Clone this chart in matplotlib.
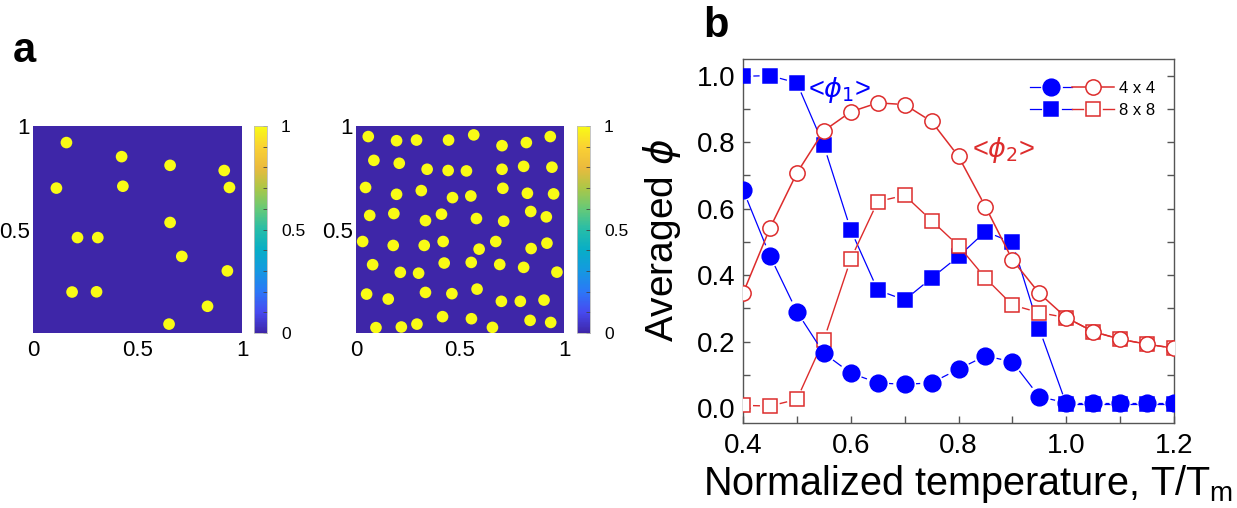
import numpy as np
import matplotlib
matplotlib.use("Agg")
import matplotlib.pyplot as plt
from matplotlib.colors import LinearSegmentedColormap, Normalize
from matplotlib.cm import ScalarMappable
from matplotlib.patches import Circle
from matplotlib.lines import Line2D
from matplotlib.collections import LineCollection
from matplotlib.legend_handler import HandlerTuple, HandlerLine2D
from matplotlib.ticker import MultipleLocator

plt.rcParams['font.family'] = ['Liberation Sans', 'DejaVu Sans']
plt.rcParams['mathtext.fontset'] = 'dejavusans'

# ---------------- data: panel a (particle centres) ----------------
x_4x4 = [0.16, 0.424, 0.656, 0.915, 0.112, 0.43, 0.94, 0.656,
         0.213, 0.31, 0.712, 0.93, 0.187, 0.304, 0.835, 0.651]
y_4x4 = [0.92, 0.852, 0.81, 0.785, 0.70, 0.709, 0.703, 0.534,
         0.461, 0.461, 0.37, 0.30, 0.198, 0.199, 0.129, 0.043]

x_8x8 = [0.059, 0.195, 0.291, 0.445, 0.566, 0.702, 0.819, 0.934,
         0.086, 0.208, 0.342, 0.443, 0.531, 0.702, 0.806, 0.942,
         0.046, 0.195, 0.314, 0.464, 0.552, 0.706, 0.824, 0.950,
         0.066, 0.182, 0.334, 0.411, 0.579, 0.710, 0.840, 0.915,
         0.032, 0.179, 0.328, 0.419, 0.592, 0.672, 0.842, 0.918,
         0.080, 0.213, 0.301, 0.424, 0.554, 0.691, 0.806, 0.966,
         0.051, 0.155, 0.334, 0.461, 0.582, 0.699, 0.790, 0.904,
         0.096, 0.218, 0.293, 0.416, 0.555, 0.656, 0.837, 0.936]
y_8x8 = [0.949, 0.929, 0.932, 0.932, 0.957, 0.905, 0.920, 0.949,
         0.834, 0.820, 0.791, 0.785, 0.783, 0.791, 0.805, 0.801,
         0.703, 0.670, 0.688, 0.654, 0.662, 0.699, 0.675, 0.672,
         0.568, 0.577, 0.543, 0.574, 0.553, 0.540, 0.587, 0.561,
         0.442, 0.423, 0.423, 0.442, 0.405, 0.442, 0.408, 0.434,
         0.330, 0.293, 0.289, 0.338, 0.341, 0.331, 0.317, 0.294,
         0.188, 0.164, 0.196, 0.190, 0.212, 0.153, 0.153, 0.159,
         0.026, 0.029, 0.043, 0.079, 0.069, 0.027, 0.061, 0.051]
particle_radius = 0.028

img_ticks = [0, 0.5, 1]
img_ticklabels = ['0', '0.5', '1']
img_yticks = [0.5, 1]
img_yticklabels = ['0.5', '1']

# ---------------- data: panel b ----------------
temp = [0.40, 0.45, 0.50, 0.55, 0.60, 0.65, 0.70, 0.75, 0.80,
        0.85, 0.90, 0.95, 1.00, 1.05, 1.10, 1.15, 1.20]
phi1_4x4 = [0.657, 0.458, 0.290, 0.165, 0.105, 0.076, 0.071, 0.076, 0.117,
            0.157, 0.139, 0.034, 0.016, 0.016, 0.016, 0.016, 0.016]
phi2_4x4 = [0.345, 0.541, 0.707, 0.834, 0.891, 0.918, 0.913, 0.862, 0.757,
            0.606, 0.446, 0.345, 0.272, 0.230, 0.207, 0.192, 0.180]
phi1_8x8 = [0.998, 1.000, 0.978, 0.790, 0.536, 0.355, 0.325, 0.391, 0.456,
            0.531, 0.498, 0.238, 0.012, 0.012, 0.012, 0.012, 0.012]
phi2_8x8 = [0.008, 0.006, 0.026, 0.205, 0.448, 0.621, 0.640, 0.564, 0.488,
            0.391, 0.310, 0.287, 0.272, 0.230, 0.207, 0.192, 0.180]
legend_labels = ['4 x 4', '8 x 8']

# ---------------- style ----------------
BLUE = '#0000FF'
RED = '#DD2C2C'
SPINE = '#555555'

parula = LinearSegmentedColormap.from_list('parula_like', [
    (0.00, (0.2422, 0.1504, 0.6603)),
    (0.10, (0.2780, 0.2900, 0.9400)),
    (0.20, (0.1700, 0.4700, 0.9700)),
    (0.30, (0.0800, 0.6000, 0.8800)),
    (0.40, (0.0300, 0.6800, 0.7800)),
    (0.50, (0.1500, 0.7400, 0.6600)),
    (0.60, (0.4000, 0.7900, 0.4700)),
    (0.70, (0.6700, 0.7800, 0.2800)),
    (0.80, (0.9200, 0.7300, 0.2400)),
    (0.90, (0.9800, 0.8200, 0.2000)),
    (1.00, (0.9769, 0.9839, 0.0805)),
])

W, H = 1237, 508
fig = plt.figure(figsize=(W / 100, H / 100), dpi=100)


def px_axes(x0, y0, x1, y1):
    return fig.add_axes([x0 / W, 1 - y1 / H, (x1 - x0) / W, (y1 - y0) / H])


def draw_field(ax, xs, ys):
    ax.set_facecolor(parula(0.0))
    for cx, cy in zip(xs, ys):
        ax.add_patch(Circle((cx, cy), particle_radius, facecolor=parula(1.0),
                            edgecolor='none'))
    ax.set_xlim(0, 1)
    ax.set_ylim(0, 1)
    for s in ax.spines.values():
        s.set_visible(False)
    ax.set_xticks(img_ticks)
    ax.set_xticklabels(img_ticklabels)
    ax.set_yticks(img_yticks)
    ax.set_yticklabels(img_yticklabels)
    ax.tick_params(length=0, labelsize=16, colors='black')
    ax.tick_params(axis='x', pad=5)
    ax.tick_params(axis='y', pad=2)


def draw_cbar(cax):
    cb = fig.colorbar(ScalarMappable(norm=Normalize(0, 1), cmap=parula), cax=cax)
    cb.set_ticks([0, 0.5, 1])
    cb.ax.set_yticklabels(['0', '0.5', '1'])
    cb.ax.yaxis.set_minor_locator(MultipleLocator(0.1))
    cb.ax.tick_params(which='both', direction='in', length=3, width=0.6,
                      color='#444444', labelsize=12.5, pad=10)
    cb.outline.set_edgecolor('#bbbbbb')
    cb.outline.set_linewidth(0.6)


ax1 = px_axes(33, 126, 242, 333)
draw_field(ax1, x_4x4, y_4x4)
draw_cbar(px_axes(254, 126, 267, 333))

ax2 = px_axes(356, 126, 564, 333)
draw_field(ax2, x_8x8, y_8x8)
draw_cbar(px_axes(577, 126, 590, 333))

# ---------------- panel b ----------------
ax = px_axes(743, 59, 1174, 423)
ax.set_xlim(0.4, 1.2)
ax.set_ylim(-0.045, 1.05)


def gapped(ax, x, y, r_px):
    P = ax.transData.transform(np.column_stack([x, y]))
    inv = ax.transData.inverted()
    segs = []
    for p0, p1 in zip(P[:-1], P[1:]):
        d = p1 - p0
        L = np.hypot(*d)
        if L <= 2 * r_px:
            continue
        u = d / L
        segs.append(inv.transform(np.array([p0 + u * r_px, p1 - u * r_px])))
    return segs


PT = 100 / 72.0
series = [
    # y, color, marker, ms, mfc, gap(pt), lw, zorder
    (phi1_8x8, BLUE, 's', 10.5, BLUE, 2.2, 0.9, 3),
    (phi2_8x8, RED, 's', 10.0, 'white', 2.2, 1.0, 4),
    (phi1_4x4, BLUE, 'o', 12.0, BLUE, 2.2, 0.9, 5),
    (phi2_4x4, RED, 'o', 11.0, 'white', 0.0, 1.1, 6),
]
handles = []
for yv, col, mk, ms, mfc, gap, lw, z in series:
    r_px = (ms / 2 + gap) * PT
    segs = gapped(ax, temp, yv, r_px)
    ax.add_collection(LineCollection(segs, colors=col, linewidths=lw, zorder=z),
                      autolim=False)
    ax.plot(temp, yv, ls='none', marker=mk, ms=ms, mfc=mfc, mec=col,
            mew=1.1, zorder=z + 0.5)
    handles.append(Line2D([], [], color=col, lw=lw, marker=mk, ms=ms, mfc=mfc,
                          mec=col, mew=1.1))
h_b8, h_r8, h_b4, h_r4 = handles
gaps = {h_b8: 2.2, h_r8: 2.2, h_b4: 2.2, h_r4: 0.0}


class GapLineHandler(HandlerLine2D):
    def __init__(self, gap_pt):
        super().__init__()
        self.gap_pt = gap_pt

    def create_artists(self, legend, orig_handle, xdescent, ydescent,
                       width, height, fontsize, trans):
        y = (height - ydescent) / 2
        x0 = -xdescent
        x1 = -xdescent + width
        xc = (x0 + x1) / 2
        r = orig_handle.get_markersize() / 2 + self.gap_pt
        arts = []
        for xa, xb in [(x0, xc - r), (xc + r, x1)]:
            ln = Line2D([xa, xb], [y, y])
            self.update_prop(ln, orig_handle, legend)
            ln.set_marker('')
            ln.set_transform(trans)
            arts.append(ln)
        mk = Line2D([xc], [y])
        self.update_prop(mk, orig_handle, legend)
        mk.set_linestyle('None')
        mk.set_transform(trans)
        arts.append(mk)
        return arts


hmap = {tuple: HandlerTuple(ndivide=None, pad=0)}
for h, g in gaps.items():
    hmap[h] = GapLineHandler(g)
leg = ax.legend([(h_b4, h_r4), (h_b8, h_r8)], legend_labels, handler_map=hmap,
                loc='upper left', bbox_to_anchor=(0.667, 0.94), frameon=False,
                fontsize=12, handlelength=5.0, handletextpad=0.3,
                labelspacing=0.4, borderpad=0, borderaxespad=0)

ax.text(0.52, 0.958, r'<$\phi_1$>', color=BLUE, fontsize=19.5, ha='left', va='center')
ax.text(0.825, 0.777, r'<$\phi_2$>', color=RED, fontsize=19.5, ha='left', va='center')

ax.xaxis.set_major_locator(MultipleLocator(0.2))
ax.xaxis.set_minor_locator(MultipleLocator(0.1))
ax.yaxis.set_major_locator(MultipleLocator(0.2))
ax.yaxis.set_minor_locator(MultipleLocator(0.1))
ax.xaxis.set_major_formatter(lambda v, p: f'{v:.1f}')
ax.yaxis.set_major_formatter(lambda v, p: f'{v:.1f}')
ax.tick_params(which='both', direction='in', length=5, width=1.0, color=SPINE,
               right=True, top=False, labelsize=20)
ax.tick_params(axis='x', pad=7)
ax.tick_params(axis='y', pad=5.5)
for s in ax.spines.values():
    s.set_color(SPINE)
    s.set_linewidth(1.0)

ax.set_ylabel(r'Averaged $\phi$', fontsize=28)
ax.yaxis.set_label_coords(-0.139, 0.503)
ax.set_xlabel(r'Normalized temperature, T/T$_\mathregular{m}$', fontsize=28.5)
ax.xaxis.set_label_coords(0.522, -0.11)

fig.text(13 / W, 1 - 62 / H, 'a', fontsize=30, fontweight='bold', va='baseline')
fig.text(703 / W, 1 - 37 / H, 'b', fontsize=30, fontweight='bold', va='baseline')

fig.savefig('out.png', dpi=100)
